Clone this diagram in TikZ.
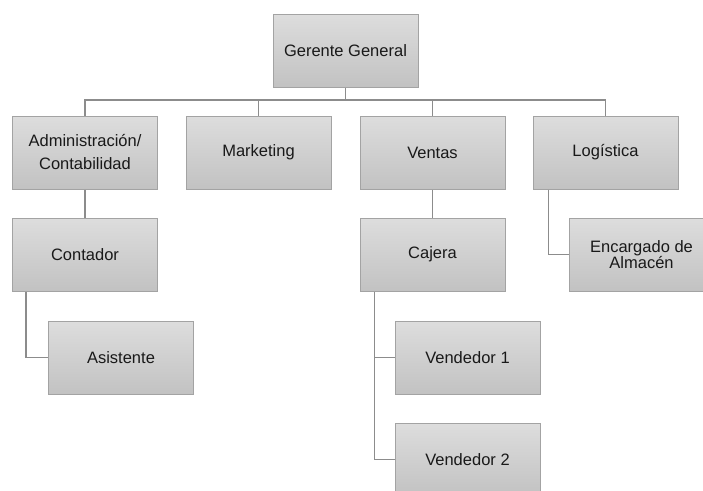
\documentclass[tikz,border=0pt]{standalone}
\usepackage{fontspec}
\setmainfont{Liberation Sans}
\definecolor{boxtop}{HTML}{DDDDDD}
\definecolor{boxbot}{HTML}{C2C2C2}
\definecolor{boxline}{HTML}{A3A3A3}
\definecolor{wire}{HTML}{8C8C8C}
\tikzset{
  puesto/.style={draw=boxline, line width=1pt, top color=boxtop, bottom color=boxbot,
    minimum width=145pt, minimum height=73pt, inner sep=2pt, align=center,
    text=black!90, font=\fontsize{16.5}{23}\selectfont},
  enlace/.style={draw=wire, line width=1.5pt}
}
\begin{document}
\begin{tikzpicture}[x=1pt,y=-1pt]
  \useasboundingbox (0,0) rectangle (703,490);
  % niveles
  \node[puesto] (gerente) at (345.5,50.5) {Gerente General};
  \node[puesto] (admin) at (85,152.5) {Administración/\\Contabilidad};
  \node[puesto] (marketing) at (258.5,152.5) {Marketing};
  \node[puesto] (ventas) at (432.5,152.5) {Ventas};
  \node[puesto] (logistica) at (605.5,152.5) {Logística};
  \node[puesto] (contador) at (85,254.5) {Contador};
  \node[puesto] (cajera) at (432.5,254.5) {Cajera};
  \node[puesto,font=\fontsize{16.5}{16}\selectfont] (encargado) at (641.5,254.5) {Encargado de\\Almacén};
  \node[puesto] (asistente) at (121,357.5) {Asistente};
  \node[puesto] (vendedor1) at (467.5,357.5) {Vendedor 1};
  \node[puesto] (vendedor2) at (467.5,459.5) {Vendedor 2};
  % conexiones
  \coordinate (bus) at (0,100);
  \draw[enlace] (gerente.south) -- (gerente.south |- bus);
  \draw[enlace] (admin.north) -- (admin.north |- bus) -- (logistica.north |- bus) -- (logistica.north);
  \draw[enlace] (marketing.north) -- (marketing.north |- bus);
  \draw[enlace] (ventas.north) -- (ventas.north |- bus);
  \draw[enlace] (admin.south) -- (contador.north);
  \draw[enlace] (ventas.south) -- (cajera.north);
  \draw[enlace] ([xshift=14pt]contador.south west) |- (asistente.west);
  \draw[enlace] ([xshift=16pt]logistica.south west) |- (encargado.west);
  \draw[enlace] ([xshift=15pt]cajera.south west) |- (vendedor1.west);
  \draw[enlace] ([xshift=15pt]cajera.south west) |- (vendedor2.west);
\end{tikzpicture}
\end{document}
